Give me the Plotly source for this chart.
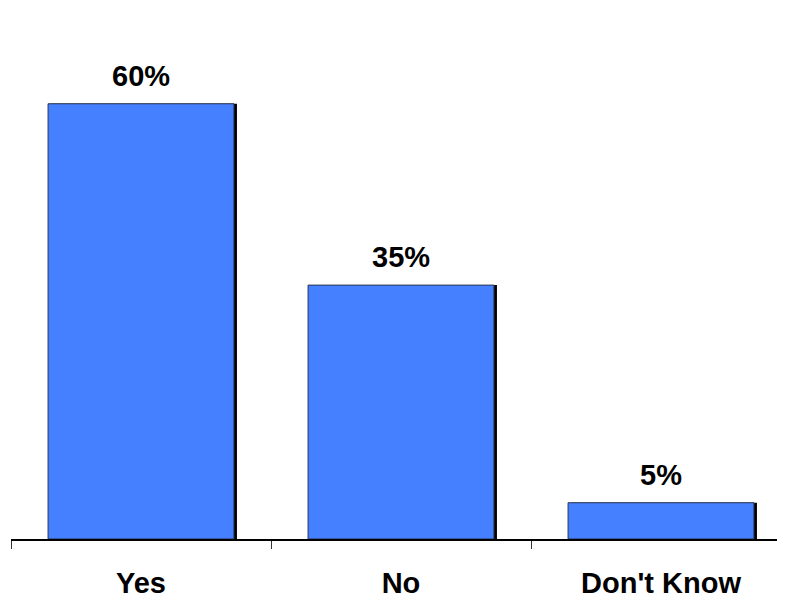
import plotly.graph_objects as go

categories = ["Yes", "No", "Don't Know"]
values = [60, 35, 5]
labels = ["60%", "35%", "5%"]

bar_w = 0.715
shadow_dx = 3 / 260

fig = go.Figure()
# drop shadow
fig.add_trace(go.Bar(
    x=categories, y=values, width=bar_w,
    offset=-bar_w / 2 + shadow_dx,
    marker=dict(color="black", line=dict(width=0)),
    hoverinfo="skip", showlegend=False,
))
fig.add_trace(go.Bar(
    x=categories, y=values, width=bar_w,
    offset=-bar_w / 2,
    marker=dict(color="#4480FF", line=dict(color="#2a3550", width=1)),
    showlegend=False,
))

for c, v, t in zip(categories, values, labels):
    fig.add_annotation(x=c, y=v, text=t, showarrow=False, yanchor="bottom",
                       yshift=10, font=dict(family="Arial, Liberation Sans", size=29,
                                            color="black", weight="bold"))

fig.update_layout(
    width=785, height=600,
    margin=dict(l=3, r=2, t=0, b=69),
    paper_bgcolor="white", plot_bgcolor="white",
    barmode="overlay",
    font=dict(family="Arial, Liberation Sans", color="black"),
    xaxis=dict(
        range=[-0.5, 2.5], showline=True, linecolor="black", linewidth=1.5,
        ticks="outside", tickson="boundaries", ticklen=8, tickcolor="#333",
        tickwidth=1, showgrid=False, ticklabelstandoff=17,
        tickfont=dict(size=29, color="black", weight="bold",
                      family="Arial, Liberation Sans"),
    ),
    yaxis=dict(range=[0, 73.2], visible=False, showgrid=False),
)

fig.write_html("out.html")
